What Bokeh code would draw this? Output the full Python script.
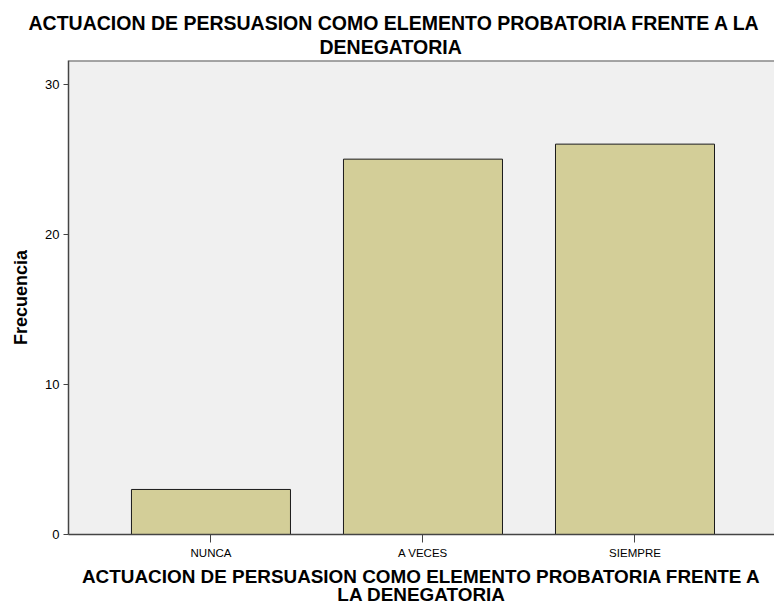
from bokeh.plotting import figure
from bokeh.models import FixedTicker, Range1d, ColumnDataSource, Span, Title
from bokeh.embed import file_html
from bokeh.resources import INLINE

categories = ["NUNCA", "A VECES", "SIEMPRE"]
frecuencia = [3, 25, 26]
y_ticks = [0, 10, 20, 30]
title_lines = ["ACTUACION DE PERSUASION COMO ELEMENTO PROBATORIA FRENTE A LA", "DENEGATORIA"]
x_label = "ACTUACION DE PERSUASION COMO ELEMENTO PROBATORIA FRENTE A\nLA DENEGATORIA"
y_label = "Frecuencia"

positions = list(range(1, len(categories) + 1))
source = ColumnDataSource(data=dict(x=positions, top=frecuencia, cat=categories))

FONT = "'Liberation Sans', Arial, sans-serif"
Y_MAX = 31.57

p = figure(width=774, height=608, output_backend="svg", toolbar_location=None,
           x_range=Range1d(0.328, 3.658), y_range=Range1d(0, Y_MAX),
           min_border_left=68, min_border_right=0, min_border_top=60, min_border_bottom=74)

p.title.visible = False
# closest to the frame first
p.add_layout(Title(text=title_lines[1], align="left", offset=251, text_font=FONT,
                   text_font_size="19.5px", text_font_style="bold", text_color="#000000",
                   standoff=6), "above")
p.add_layout(Title(text=title_lines[0], align="left", offset=-40, text_font=FONT,
                   text_font_size="19.5px", text_font_style="bold", text_color="#000000",
                   standoff=-6), "above")

p.vbar(x="x", top="top", width=0.75, source=source,
       fill_color="#D3CE98", line_color="#1A1A1A", line_width=1)

p.background_fill_color = "#F0F0F0"
p.border_fill_color = "#FFFFFF"
p.outline_line_color = None
p.add_layout(Span(location=Y_MAX, dimension="width", line_color="#555555", line_width=2))
p.grid.visible = False

p.xaxis.ticker = FixedTicker(ticks=positions)
p.xaxis.major_label_overrides = {i: c for i, c in zip(positions, categories)}
p.xaxis.axis_label = x_label
p.yaxis.ticker = FixedTicker(ticks=y_ticks)
p.yaxis.axis_label = y_label

for ax in (p.xaxis[0], p.yaxis[0]):
    ax.axis_line_color = "#444444"
    ax.axis_line_width = 1.5
    ax.major_tick_line_color = "#444444"
    ax.minor_tick_line_color = None
    ax.major_tick_in = 0
    ax.major_label_text_font = FONT
    ax.major_label_text_color = "#000000"
    ax.axis_label_text_font = FONT
    ax.axis_label_text_font_style = "bold"
    ax.axis_label_text_color = "#000000"

p.xaxis.major_label_text_font_size = "11.5px"
p.yaxis.major_label_text_font_size = "13px"
p.xaxis.major_tick_out = 8
p.yaxis.major_tick_out = 5
p.xaxis.major_label_standoff = 4
p.yaxis.major_label_standoff = 4
p.xaxis.axis_label_text_font_size = "18.9px"
p.xaxis.axis_label_text_line_height = 0.9
p.yaxis.axis_label_text_font_size = "18px"
p.xaxis.axis_label_standoff = 4
p.yaxis.axis_label_standoff = 11

open("out.html", "w").write(file_html(p, INLINE))
